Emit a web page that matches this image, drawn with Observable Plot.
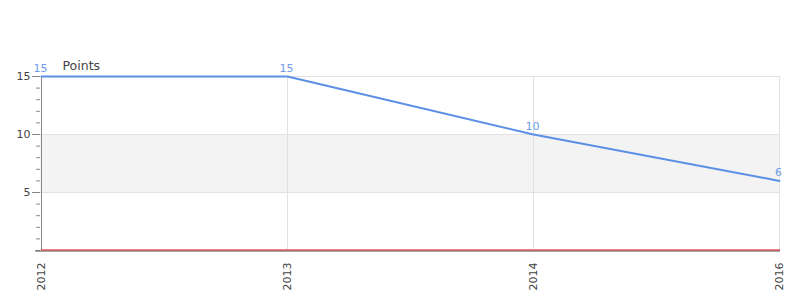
<!DOCTYPE html>
<html>
<head>
<meta charset="utf-8">
<script src="https://cdn.jsdelivr.net/npm/d3@7"></script>
<script src="https://cdn.jsdelivr.net/npm/@observablehq/plot@0.6"></script>
<style>
  body { margin: 0; background: #fff; }
  #chart svg { display: block; }
</style>
</head>
<body>
<div id="chart"></div>
<script>
const years = ["2012", "2013", "2014", "2016"];
const points = [15, 15, 10, 6];
const baseline = [0, 0, 0, 0];
const majorTicks = [5, 10, 15];
const minorTicks = d3.range(0, 16);

const data = years.map((y, i) => ({ year: y, points: points[i], base: baseline[i] }));

const font = "DejaVu Sans, sans-serif";

const chart = Plot.plot({
  width: 800,
  height: 300,
  marginLeft: 40,
  marginRight: 20,
  marginTop: 76,
  marginBottom: 50,
  style: { fontFamily: font, fontSize: "11px", color: "#444", background: "#fff" },
  x: { type: "point", domain: years, padding: 0, label: null },
  y: { domain: [0, 15], label: null },
  marks: [
    Plot.rect([{ y1: 5, y2: 10 }], { y1: "y1", y2: "y2", fill: "#f3f3f3" }),
    Plot.ruleY(majorTicks, { stroke: "#e2e2e2" }),
    Plot.ruleX(["2013", "2014", "2016"], { stroke: "#e2e2e2" }),
    Plot.ruleX(["2012"], { stroke: "#888" }),
    Plot.axisY(minorTicks, { tickSize: 4, tickFormat: () => "", stroke: "#888" }),
    Plot.axisY(majorTicks, { tickSize: 8, tickPadding: 2, stroke: "#888", fill: "#444", fontSize: 11 }),
    Plot.ruleY([0], { stroke: "#555", strokeWidth: 1, insetLeft: -5, dy: 0.5 }),
    Plot.line(data, { x: "year", y: "base", stroke: "#dd1111", strokeWidth: 1, dy: -0.5 }),
    Plot.line(data, { x: "year", y: "points", stroke: "#5b8fe6", strokeWidth: 2 }),
    Plot.text(data, { x: "year", y: "points", text: d => String(d.points), dy: -8, dx: -1, fill: "#6d9be8", fontSize: 11 }),
    Plot.axisX({ tickSize: 0, tickRotate: -90, tickPadding: 12, fill: "#444", fontSize: 11 }),
    Plot.text(["Points"], { frameAnchor: "top-left", dx: 22, dy: -15, text: d => d, fill: "#444", fontSize: 12.5, textAnchor: "start" })
  ]
});

document.getElementById("chart").appendChild(chart);
</script>
</body>
</html>
